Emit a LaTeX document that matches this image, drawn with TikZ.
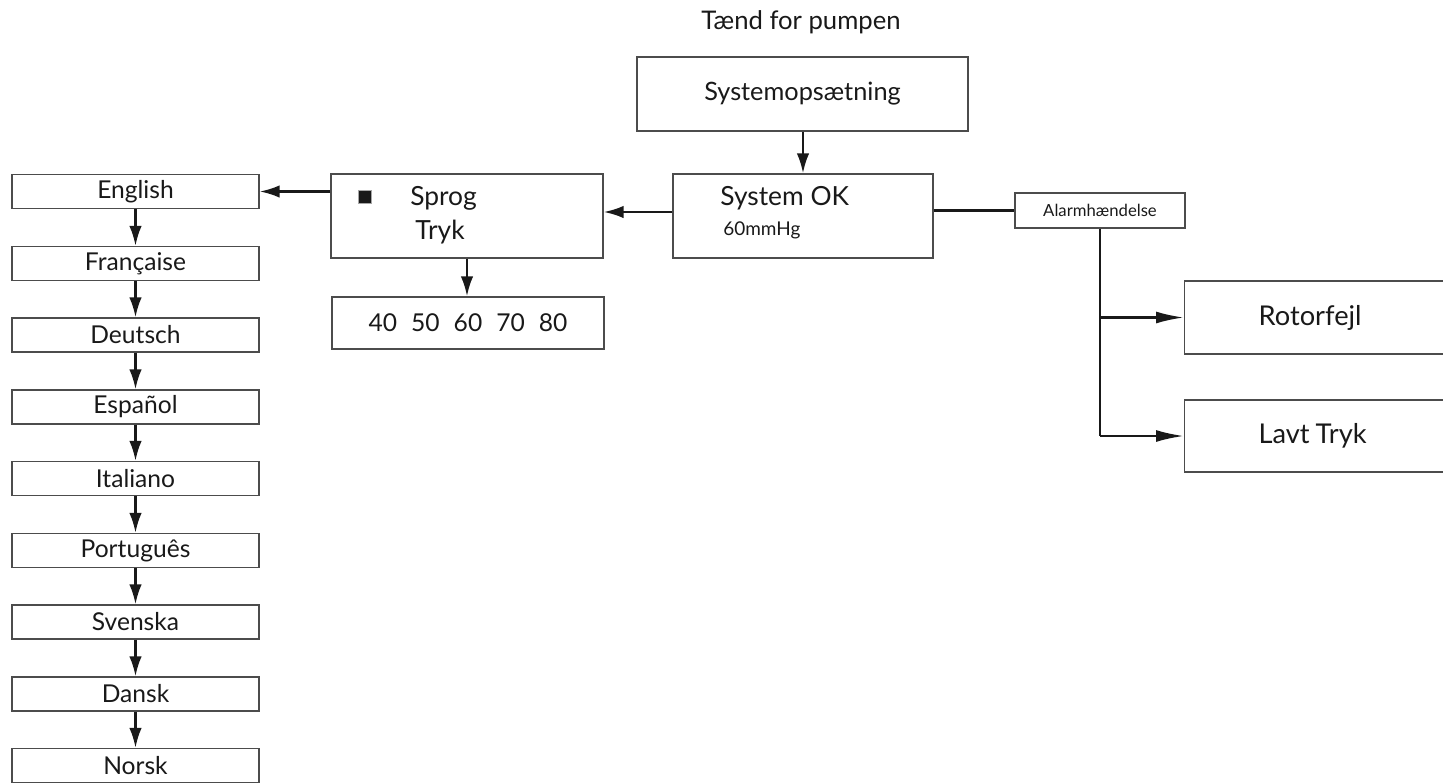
\documentclass[tikz,border=0pt]{standalone}
\usepackage{fontspec}
\setmainfont{Lato}
\usetikzlibrary{arrows.meta}

\begin{document}
\begin{tikzpicture}[
    boite/.style={draw=black!70, line width=0.75pt, inner sep=0pt, text=black!90},
    langue/.style={boite, minimum width=4.94cm, minimum height=0.68cm, font=\fontsize{14}{16}\selectfont},
    texte/.style={inner sep=0pt, text=black!90, font=\fontsize{13}{15}\selectfont},
    fleche/.style={-{Latex[length=0.40cm, width=0.25cm]}, line width=1.4pt, black!90},
    branche/.style={-{Latex[length=0.56cm, width=0.24cm]}, line width=1.4pt, black!90},
    trait/.style={line width=1.4pt, black!90}
  ]

    % Cadre de la figure
    \useasboundingbox (0,0) rectangle (28.86,-15.64);
    \clip (0,0) rectangle (28.86,-15.64);

    % Titre
    \node[texte, font=\fontsize{14.6}{16}\selectfont] (titre) at (16.02,-0.44) {Tænd for pumpen};

    % Boîtes du menu principal
    \node[boite, minimum width=6.62cm, minimum height=1.48cm, font=\fontsize{14.4}{16}\selectfont]
        (setup) at (16.05,-1.88) {Systemopsætning};
    \node[boite, minimum width=5.20cm, minimum height=1.68cm] (ok) at (16.06,-4.32) {};
    \node[texte, anchor=west, font=\fontsize{15}{17}\selectfont] (okt) at (14.40,-3.96) {System OK};
    \node[texte, anchor=west, font=\fontsize{10.8}{12}\selectfont] (mmhg) at (14.46,-4.60) {60mmHg};

    % Menu Sprog / Tryk
    \node[boite, minimum width=5.44cm, minimum height=1.68cm] (menu) at (9.34,-4.32) {};
    \node[fill=black!90, draw=black!35, line width=0.4pt, minimum size=0.26cm, inner sep=0pt]
        (curseur) at (7.30,-3.94) {};
    \node[texte, anchor=west, font=\fontsize{15}{17}\selectfont] (sprog) at (8.20,-3.96) {Sprog};
    \node[texte, anchor=west, font=\fontsize{15}{17}\selectfont] (tryk) at (8.30,-4.64) {Tryk};
    \node[boite, minimum width=5.44cm, minimum height=1.04cm, font=\fontsize{14}{16}\selectfont]
        (valeurs) at (9.36,-6.46)
        {40\hspace{0.28cm}50\hspace{0.28cm}60\hspace{0.28cm}70\hspace{0.28cm}80};

    % Alarmes
    \node[boite, minimum width=3.40cm, minimum height=0.70cm, font=\fontsize{9.5}{11}\selectfont]
        (alarme) at (22.00,-4.21) {Alarmhændelse};
    \node[boite, anchor=west, minimum height=1.46cm, text width=2.70cm, inner xsep=1.48cm,
        align=left, font=\fontsize{15.5}{17}\selectfont] (rotor) at (23.68,-6.35) {Rotorfejl};
    \node[boite, anchor=west, minimum height=1.44cm, text width=2.70cm, inner xsep=1.48cm,
        align=left, font=\fontsize{15.5}{17}\selectfont] (lavt) at (23.68,-8.72) {Lavt\hspace{0.12cm}Tryk};

    % Liste des langues
    \node[langue] (english)   at (2.71,-3.83)  {English};
    \node[langue] (francaise) at (2.71,-5.27)  {Française};
    \node[langue] (deutsch)   at (2.71,-6.70)  {Deutsch};
    \node[langue] (espanol)   at (2.71,-8.14)  {Español};
    \node[langue] (italiano)  at (2.71,-9.57)  {Italiano};
    \node[langue] (portugues) at (2.71,-11.01) {Português};
    \node[langue] (svenska)   at (2.71,-12.44) {Svenska};
    \node[langue] (dansk)     at (2.71,-13.88) {Dansk};
    \node[langue] (norsk)     at (2.71,-15.31) {Norsk};

    % --- Liaisons ---
    \draw[fleche] (ok.north |- setup.south) -- (ok.north);
    \draw[fleche] ([yshift=0.08cm]ok.west) -- ([yshift=0.08cm]menu.east);
    \draw[fleche] (menu.west |- english.east) -- (english.east);
    \draw[fleche] (menu.south) -- (valeurs.north -| menu.south);
    \draw[trait]  (ok.east |- alarme.west) -- (alarme.west);

    % Branches de l'alarme
    \draw[trait]   (alarme.south) -- (alarme.south |- lavt.west);
    \draw[branche] (alarme.south |- rotor.west) -- (rotor.west);
    \draw[branche] (alarme.south |- lavt.west) -- (lavt.west);

    % Enchaînement des langues
    \draw[fleche] (english.south)   -- (francaise.north);
    \draw[fleche] (francaise.south) -- (deutsch.north);
    \draw[fleche] (deutsch.south)   -- (espanol.north);
    \draw[fleche] (espanol.south)   -- (italiano.north);
    \draw[fleche] (italiano.south)  -- (portugues.north);
    \draw[fleche] (portugues.south) -- (svenska.north);
    \draw[fleche] (svenska.south)   -- (dansk.north);
    \draw[fleche] (dansk.south)     -- (norsk.north);

\end{tikzpicture}
\end{document}
